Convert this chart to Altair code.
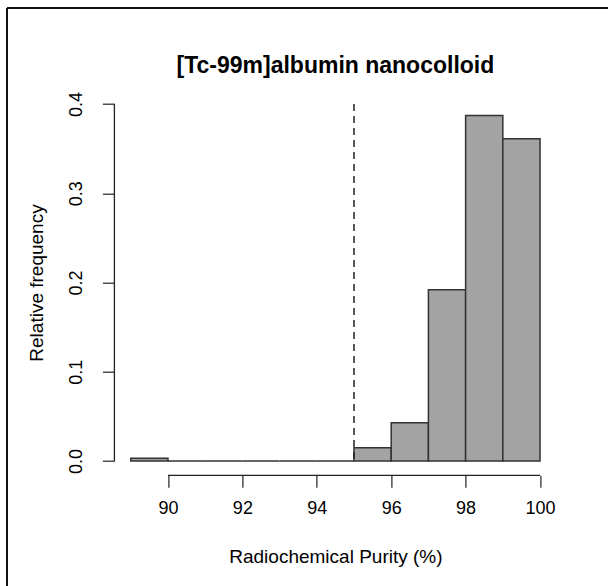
import altair as alt
import pandas as pd

# ---- data ----
bin_start = [89, 90, 91, 92, 93, 94, 95, 96, 97, 98, 99]
bin_end = [90, 91, 92, 93, 94, 95, 96, 97, 98, 99, 100]
rel_freq = [0.003, 0.0, 0.0, 0.0, 0.0, 0.0, 0.015, 0.043, 0.192, 0.387, 0.361]
x_ticks = [90, 92, 94, 96, 98, 100]
y_ticks = [0.0, 0.1, 0.2, 0.3, 0.4]
threshold = [95]
x_axis_span = [90, 100]
y_axis_span = [0.0, 0.4]
title_text = ["[Tc-99m]albumin nanocolloid"]

bars_df = pd.DataFrame({"start": bin_start, "end": bin_end, "freq": rel_freq})
thr_df = pd.DataFrame({"start": threshold, "y0": [y_axis_span[0]], "freq": [y_axis_span[1]]})
xspan_df = pd.DataFrame({"start": [x_axis_span[0]], "end": [x_axis_span[1]]})
yspan_df = pd.DataFrame({"freq": [y_axis_span[0]], "b": [y_axis_span[1]]})
title_df = pd.DataFrame({"t": title_text})
one = pd.DataFrame({"k": [0]})

# layout (pixels)
L, T = 114.4, 89.7
W, H = 442.0, 385.6
FONT = "Liberation Sans"
INK = "#222222"

xs = alt.Scale(domain=[88.56, 100.44], nice=False, zero=False)
ys = alt.Scale(domain=[-0.016, 0.416], nice=False, zero=False)

ax_x = alt.Axis(
    values=x_ticks, format="d", title="Radiochemical Purity (%)",
    domain=False, grid=False, ticks=True, tickSize=12, tickColor=INK, tickWidth=1.2,
    labelFont=FONT, labelFontSize=18, labelColor="black", labelPadding=12,
    titleFont=FONT, titleFontSize=19, titleFontWeight="normal", titleColor="black",
    titlePadding=30, labelFlush=False)
ax_y = alt.Axis(
    values=y_ticks, format=".1f", title="Relative frequency",
    domain=False, grid=False, ticks=True, tickSize=12, tickColor=INK, tickWidth=1.2,
    labelFont=FONT, labelFontSize=18, labelColor="black", labelAngle=270,
    labelPadding=17, labelFlush=False,
    titleFont=FONT, titleFontSize=19, titleFontWeight="normal", titleColor="black",
    titlePadding=21)

bars = alt.Chart(bars_df).mark_bar(
    fill="#a3a3a3", stroke="#333333", strokeWidth=1.5
).encode(
    x=alt.X("start:Q", scale=xs, axis=ax_x),
    x2="end:Q",
    y=alt.Y("freq:Q", scale=ys, axis=ax_y),
    y2=alt.datum(0),
)

thr = alt.Chart(thr_df).mark_rule(
    strokeDash=[7, 5], color=INK, strokeWidth=1.5
).encode(
    x=alt.X("start:Q", scale=xs, axis=ax_x),
    y=alt.Y("freq:Q", scale=ys, axis=ax_y),
    y2="y0:Q",
)

xline = alt.Chart(xspan_df).mark_rule(color=INK, strokeWidth=1.3).encode(
    x=alt.X("start:Q", scale=xs, axis=ax_x), x2="end:Q", y=alt.value(H)
)
yline = alt.Chart(yspan_df).mark_rule(color=INK, strokeWidth=1.3).encode(
    y=alt.Y("freq:Q", scale=ys, axis=ax_y), y2="b:Q", x=alt.value(0)
)

title = alt.Chart(title_df).mark_text(
    font=FONT, fontSize=23, fontWeight="bold", color="black",
    align="center", baseline="middle"
).encode(text="t:N", x=alt.value(W / 2), y=alt.value(66 - T))

border_top = alt.Chart(one).mark_rule(color="#111111", strokeWidth=2).encode(
    x=alt.value(7 - L), x2=alt.value(608 - L), y=alt.value(8 - T)
)
border_left = alt.Chart(one).mark_rule(color="#111111", strokeWidth=2).encode(
    x=alt.value(7 - L), y=alt.value(8 - T), y2=alt.value(586 - T)
)

chart = alt.layer(bars, thr, xline, yline, title, border_top, border_left).properties(
    width=W, height=H,
    padding={"left": L, "top": T, "right": 608 - L - W, "bottom": 586 - T - H},
    autosize=alt.AutoSizeParams(type="none"),
    background="white",
).configure_view(stroke=None)

chart.save("out.html", embed_options={"renderer": "svg", "actions": False})
